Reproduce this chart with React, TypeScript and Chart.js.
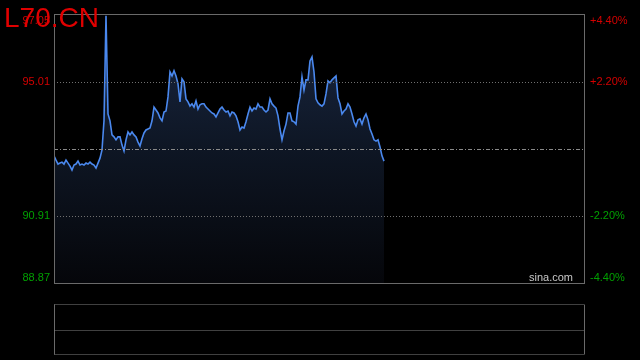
import React, { useEffect, useRef } from "react";
import { Chart, registerables } from "chart.js";

Chart.register(...registerables);

const TITLE = "L70.CN";
const WATERMARK = "sina.com";
const PREV_CLOSE = 92.96;
const PRICE_MAX = 97.05;
const PRICE_MIN = 88.87;
const TICK_VALUES = [97.05, 95.01, 92.96, 90.91, 88.87];
const LEFT_LABELS = ["97.05", "95.01", "", "90.91", "88.87"];
const RIGHT_LABELS = ["+4.40%", "+2.20%", "", "-2.20%", "-4.40%"];
const SLOT_COUNT = 266;

const PRICES = [
  92.75, 92.62, 92.5, 92.53, 92.56, 92.5, 92.62, 92.53, 92.44, 92.32,
  92.47, 92.5, 92.59, 92.47, 92.5, 92.47, 92.53, 92.5, 92.56, 92.5,
  92.47, 92.38, 92.53, 92.68, 92.93, 93.82, 97.03, 94.03, 93.82, 93.39,
  93.33, 93.24, 93.33, 93.33, 93.08, 92.9, 93.24, 93.48, 93.39, 93.48,
  93.39, 93.33, 93.17, 93.05, 93.27, 93.45, 93.54, 93.57, 93.6, 93.82,
  94.24, 94.15, 94.06, 93.91, 93.82, 94.09, 94.12, 94.55, 95.31, 95.19,
  95.35, 95.19, 94.95, 94.4, 95.1, 95.01, 94.49, 94.4, 94.27, 94.34,
  94.24, 94.43, 94.18, 94.31, 94.34, 94.34, 94.24, 94.18, 94.12, 94.06,
  94.03, 93.94, 94.06, 94.18, 94.24, 94.15, 94.09, 94.12, 93.97, 94.09,
  94.06, 93.97, 93.79, 93.54, 93.63, 93.6, 93.79, 94.03, 94.24, 94.12,
  94.21, 94.18, 94.34, 94.24, 94.24, 94.15, 94.09, 94.15, 94.49, 94.34,
  94.27, 94.21, 93.97, 93.57, 93.24, 93.51, 93.72, 94.06, 94.06, 93.82,
  93.79, 93.72, 94.27, 94.55, 95.16, 94.76, 95.07, 95.07, 95.65, 95.77,
  95.31, 94.49, 94.37, 94.31, 94.27, 94.34, 94.64, 95.04, 94.98, 95.07,
  95.13, 95.19, 94.52, 94.34, 94.03, 94.12, 94.18, 94.34, 94.24, 94.03,
  93.79, 93.66, 93.85, 93.88, 93.72, 93.91, 94.03, 93.85, 93.57, 93.42,
  93.24, 93.2, 93.24, 93.02, 92.75, 92.59,
];

const FONT = '"Liberation Sans", Arial, sans-serif';

const overlayPlugin = {
  id: "sinaOverlay",
  beforeDraw(chart: any) {
    const c = chart.ctx;
    c.save();
    c.fillStyle = "#000";
    c.fillRect(0, 0, chart.width, chart.height);
    c.restore();
  },
  afterDatasetsDraw(chart: any) {
    const c = chart.ctx;
    const a = chart.chartArea;
    const y = chart.scales.y;
    c.save();
    c.lineWidth = 1;

    // grid lines (drawn over the area fill, as in the reference)
    TICK_VALUES.forEach((v) => {
      if (v === PRICE_MAX || v === PRICE_MIN) return;
      const py = Math.round(y.getPixelForValue(v)) + 0.5;
      c.beginPath();
      if (v === PREV_CLOSE) {
        c.strokeStyle = "#8a8a8a";
        c.setLineDash([4, 2, 1, 2]);
      } else {
        c.strokeStyle = "#707070";
        c.setLineDash([1, 2]);
      }
      c.moveTo(a.left, py);
      c.lineTo(a.right, py);
      c.stroke();
    });

    // frame
    c.strokeStyle = "#6a6a6a";
    c.setLineDash([]);
    c.strokeRect(Math.round(a.left) + 0.5, Math.round(a.top) - 0.5, Math.round(a.right - a.left), Math.round(a.bottom - a.top) + 1);

    // axis labels
    c.font = `11px ${FONT}`;
    TICK_VALUES.forEach((v, i) => {
      if (!LEFT_LABELS[i]) return;
      const py = y.getPixelForValue(v);
      let base: CanvasTextBaseline = "middle";
      let ty = py;
      if (py - 6 < a.top) {
        base = "top";
        ty = a.top;
      } else if (py + 6 > a.bottom) {
        base = "bottom";
        ty = a.bottom;
      }
      c.textBaseline = base;
      c.fillStyle = v > PREV_CLOSE ? "#d40000" : "#00a000";
      c.textAlign = "right";
      c.fillText(LEFT_LABELS[i], a.left - 4, ty);
      c.textAlign = "left";
      c.fillText(RIGHT_LABELS[i], a.right + 6, ty);
    });

    // watermark
    c.font = `11px ${FONT}`;
    c.fillStyle = "#c8c8c8";
    c.textAlign = "right";
    c.textBaseline = "bottom";
    c.fillText(WATERMARK, a.right - 11, a.bottom);

    // lower panel
    const pTop = 304.5;
    const pMid = 330.5;
    const pBot = 354.5;
    const l = Math.round(a.left) + 0.5;
    const r = Math.round(a.right) + 0.5;
    c.strokeStyle = "#6a6a6a";
    c.beginPath();
    c.moveTo(l, pTop);
    c.lineTo(l, pBot);
    c.moveTo(r, pTop);
    c.lineTo(r, pBot);
    c.stroke();
    c.strokeStyle = "#808080";
    c.setLineDash([1, 1]);
    [pTop, pMid, pBot].forEach((py) => {
      c.beginPath();
      c.moveTo(l, py);
      c.lineTo(r, py);
      c.stroke();
    });
    c.setLineDash([]);

    // title
    c.font = `28px ${FONT}`;
    c.fillStyle = "#e00000";
    c.textAlign = "left";
    c.textBaseline = "alphabetic";
    c.fillText(TITLE, 4, 27);
    c.restore();
  },
};

export default function App() {
  const ref = useRef<HTMLCanvasElement | null>(null);

  useEffect(() => {
    if (!ref.current) return;
    const chart = new Chart(ref.current, {
      type: "line",
      data: {
        datasets: [
          {
            data: PRICES.map((v, i) => ({ x: i, y: v })),
            borderColor: "#4a88ee",
            borderWidth: 1.6,
            pointRadius: 0,
            tension: 0,
            fill: "start",
            backgroundColor: (ctx: any) => {
              const area = ctx.chart.chartArea;
              if (!area) return "rgba(20,30,50,0.8)";
              const g = ctx.chart.ctx.createLinearGradient(0, area.top, 0, area.bottom);
              g.addColorStop(0, "rgb(26,40,68)");
              g.addColorStop(0.5, "rgb(14,22,36)");
              g.addColorStop(1, "rgb(5,6,10)");
              return g;
            },
          },
        ],
      },
      options: {
        responsive: false,
        animation: false,
        layout: { padding: { left: 54, right: 56, top: 15, bottom: 77 } },
        scales: {
          x: { type: "linear", min: 0, max: SLOT_COUNT - 1, display: false },
          y: { type: "linear", min: PRICE_MIN, max: PRICE_MAX, display: false },
        },
        plugins: {
          legend: { display: false },
          tooltip: { enabled: false },
        },
      },
      plugins: [overlayPlugin],
    } as any);
    return () => chart.destroy();
  }, []);

  return (
    <div style={{ position: "fixed", left: 0, top: 0, width: 640, height: 360, background: "#000" }}>
      <canvas ref={ref} width={640} height={360} style={{ display: "block", width: 640, height: 360 }} />
    </div>
  );
}
